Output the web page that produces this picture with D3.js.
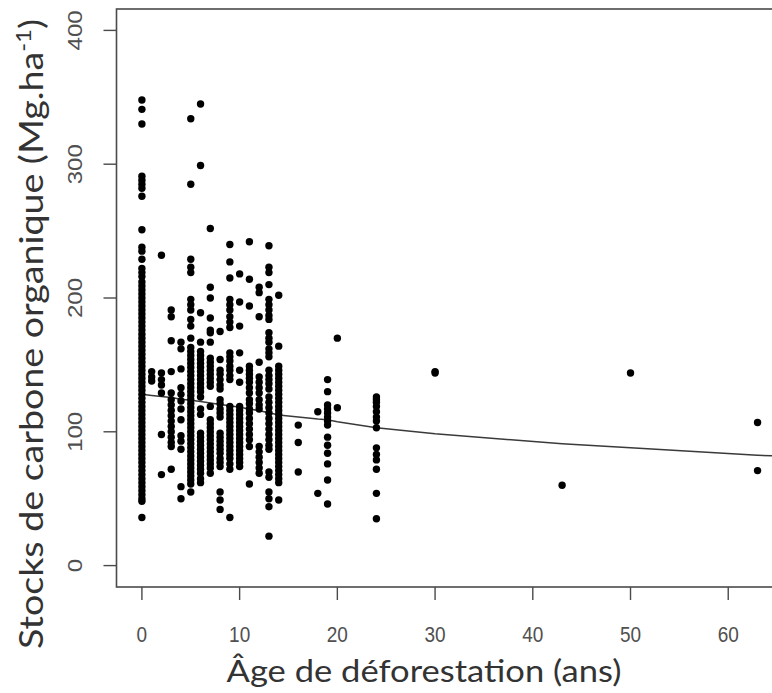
<!DOCTYPE html>
<html lang="fr">
    <head>
        <meta charset="utf-8">
        <title>Stocks de carbone organique</title>
        <script type="text/javascript" src="https://cdn.jsdelivr.net/npm/d3@7"></script>
        <style type="text/css">
            body { margin: 0; background: #fff; }
            svg { display: block; }
        </style>
    </head>
    <body>
        <script type="text/javascript">
            //Width and height
            var w = 772;
            var h = 693;

            // ages (years since deforestation) with one stock list per age
            var ages = [0, 1, 2, 3, 4, 5, 6, 7, 8, 9, 10, 11, 12, 13, 14, 16, 18, 19, 20, 24, 30, 43, 50, 63];
            var stocks = [
                [348, 341, 330, 291, 288, 285, 282, 276, 251, 238, 235, 229, 222, 219, 216, 212, 209, 206, 203, 200, 197, 194, 191, 188, 185, 182, 179, 176, 173, 170, 167, 164, 161, 158, 155, 152, 149, 146, 143, 140, 137, 134, 131, 128, 125, 122, 119, 116, 113, 110, 107, 104, 101, 98, 95, 92, 89, 86, 83, 80, 77, 74, 71, 68, 65, 62, 59, 56, 53, 50, 48, 36],
                [145, 141, 138],
                [232, 144, 139, 135, 129, 98, 68],
                [191, 186, 168, 145, 129, 124, 120, 116, 112, 108, 104, 100, 96, 92, 89, 72],
                [167, 162, 147, 133, 128, 123, 117, 109, 97, 93, 87, 59, 50],
                [334, 285, 229, 223, 219, 199, 195, 191, 184, 179, 170, 163, 160, 157, 154, 151, 148, 145, 142, 139, 136, 133, 130, 127, 124, 121, 118, 115, 112, 109, 106, 103, 100, 97, 94, 91, 88, 85, 82, 79, 76, 73, 70, 67, 64, 61, 55],
                [345, 299, 189, 167, 160, 157, 154, 151, 148, 145, 142, 139, 136, 133, 130, 126, 117, 113, 99, 96, 93, 90, 87, 84, 81, 78, 75, 72, 69, 65, 62],
                [252, 208, 200, 185, 176, 174, 167, 155, 152, 149, 146, 143, 140, 137, 134, 119, 109, 106, 103, 100, 97, 94, 91, 88, 85, 82, 79, 76, 73, 69],
                [175, 154, 146, 143, 139, 135, 132, 124, 121, 117, 114, 111, 99, 96, 93, 90, 87, 84, 80, 77, 74, 55, 49, 42],
                [240, 227, 215, 199, 195, 191, 186, 182, 178, 159, 156, 153, 149, 146, 142, 139, 119, 116, 113, 110, 107, 104, 101, 98, 95, 92, 89, 86, 83, 80, 76, 72, 36],
                [218, 197, 179, 159, 146, 137, 119, 116, 113, 110, 107, 104, 101, 98, 95, 92, 89, 86, 83, 80, 77, 74],
                [242, 214, 194, 149, 146, 143, 140, 137, 133, 129, 124, 121, 117, 114, 110, 106, 102, 98, 94, 89, 61],
                [208, 204, 186, 152, 141, 137, 133, 129, 124, 120, 117, 89, 85, 81, 77, 73, 69],
                [239, 223, 219, 210, 199, 195, 191, 187, 184, 174, 170, 167, 162, 159, 156, 146, 142, 139, 136, 132, 126, 122, 118, 114, 110, 106, 102, 98, 94, 90, 87, 70, 66, 55, 50, 44, 22],
                [202, 164, 149, 146, 143, 140, 137, 134, 131, 128, 125, 122, 119, 116, 113, 110, 107, 104, 101, 98, 95, 92, 89, 86, 83, 80, 77, 74, 71, 68, 65, 62, 49],
                [105, 92, 70],
                [115, 54],
                [139, 130, 120, 117, 114, 111, 108, 105, 96, 90, 84, 76, 64, 46],
                [170, 118],
                [126, 124, 122, 119, 115, 111, 108, 103, 88, 83, 79, 72, 54, 35],
                [145, 144],
                [60],
                [144],
                [107, 71]
            ];

            // fitted curve
            var fitAges = [0, 1, 2, 3, 4, 5, 6, 7, 8, 9, 10, 11, 12, 13, 14, 16, 18, 19, 20, 24, 30, 43, 50, 63, 66];
            var fitStocks = [128, 127.2, 126.4, 125.6, 124.4, 123.5, 122.6, 121.6, 120.4, 119.4, 118.3, 117, 115.8, 114.2, 112.6, 111, 109.5, 109, 107.5, 103, 98.5, 91, 88, 82.5, 81.5];

            var xTicks = [0, 10, 20, 30, 40, 50, 60];
            var yTicks = [0, 100, 200, 300, 400];

            var points = [];
            for(var i = 0; i < ages.length; i++) {
                for(var j = 0; j < stocks[i].length; j++) {
                    points.push({ age: ages[i], stock: stocks[i][j] });
                }
            }

            var x = d3.scaleLinear().domain([-2.6, 67.6]).range([116.5, 802.5]);
            var y = d3.scaleLinear().domain([-16, 416]).range([587, 9]);

            var svg = d3.select("body")
                        .append("svg")
                        .attr("width", w)
                        .attr("height", h);

            var axisColor = "#4a4a4a";

            // box
            svg.append("rect")
                .attr("x", x(-2.6))
                .attr("y", y(416))
                .attr("width", x(67.6) - x(-2.6))
                .attr("height", y(-16) - y(416))
                .attr("fill", "none")
                .attr("stroke", axisColor)
                .attr("stroke-width", 1.6);

            // x ticks
            svg.selectAll("line.xt")
                .data(xTicks)
                .enter()
                .append("line")
                .attr("class", "xt")
                .attr("x1", function(d) { return x(d); })
                .attr("x2", function(d) { return x(d); })
                .attr("y1", y(-16))
                .attr("y2", y(-16) + 13)
                .attr("stroke", axisColor)
                .attr("stroke-width", 1.4);

            // labels look a bit stretched vertically in the original
            svg.selectAll("text.xl")
                .data(xTicks)
                .enter()
                .append("text")
                .attr("class", "xl")
                .attr("transform", function(d) {
                    return "translate(" + x(d) + ",642) scale(1,1.18)";
                })
                .attr("text-anchor", "middle")
                .attr("font-family", "Liberation Sans, Arial, sans-serif")
                .attr("font-size", 19)
                .attr("fill", "#505050")
                .text(function(d) { return d; });

            // y ticks
            svg.selectAll("line.yt")
                .data(yTicks)
                .enter()
                .append("line")
                .attr("class", "yt")
                .attr("x1", x(-2.6) - 13)
                .attr("x2", x(-2.6))
                .attr("y1", function(d) { return y(d); })
                .attr("y2", function(d) { return y(d); })
                .attr("stroke", axisColor)
                .attr("stroke-width", 1.4);

            svg.selectAll("text.yl")
                .data(yTicks)
                .enter()
                .append("text")
                .attr("class", "yl")
                .attr("transform", function(d) {
                    return "translate(82," + y(d) + ") scale(1,1.2) rotate(-90)";
                })
                .attr("text-anchor", "middle")
                .attr("font-family", "Liberation Sans, Arial, sans-serif")
                .attr("font-size", 20)
                .attr("fill", "#505050")
                .text(function(d) { return d; });

            // fitted line
            var line = d3.line()
                .x(function(d, i) { return x(fitAges[i]); })
                .y(function(d) { return y(d); });
            svg.append("path")
                .datum(fitStocks)
                .attr("d", line)
                .attr("fill", "none")
                .attr("stroke", "#3a3a3a")
                .attr("stroke-width", 1.5);

            // points
            svg.selectAll("circle")
                .data(points)
                .enter()
                .append("circle")
                .attr("cx", function(d) { return x(d.age); })
                .attr("cy", function(d) { return y(d.stock); })
                .attr("r", 3.7)
                .attr("fill", "#000");

            // axis titles
            svg.append("text")
                .attr("x", 424)
                .attr("y", 682)
                .attr("text-anchor", "middle")
                .attr("font-family", "Lato, Open Sans, sans-serif")
                .attr("font-size", 31)
                .attr("fill", "#333")
                .attr("textLength", 395)
                .attr("lengthAdjust", "spacingAndGlyphs")
                .text("Âge de déforestation (ans)");

            var yt = svg.append("text")
                .attr("transform", "translate(43,334) rotate(-90)")
                .attr("text-anchor", "middle")
                .attr("font-family", "Lato, Open Sans, sans-serif")
                .attr("font-size", 33)
                .attr("fill", "#333")
                .attr("textLength", 630)
                .attr("lengthAdjust", "spacingAndGlyphs");
            yt.append("tspan").text("Stocks de carbone organique (Mg.ha");
            yt.append("tspan")
                .attr("dy", -12)
                .attr("font-size", 21)
                .text("-1");
            yt.append("tspan")
                .attr("dy", 12)
                .text(")");
        </script>
    </body>
</html>
